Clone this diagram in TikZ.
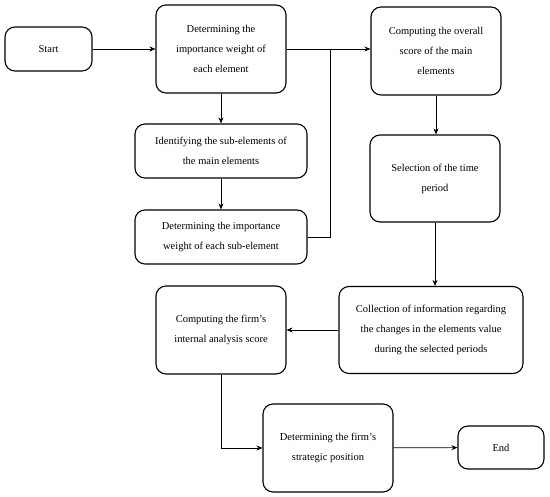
\documentclass[tikz,border=0pt]{standalone}
\usepackage{fontspec}
\setmainfont{Liberation Serif}
\usetikzlibrary{arrows.meta}
\tikzset{
  stepbox/.style={draw, line width=1.1pt, rounded corners=10pt, align=center,
    font=\fontsize{10.5}{20}\selectfont, inner sep=2pt},
  flow/.style={-{Stealth[length=6pt,width=5pt]}, line width=0.7pt},
}
\begin{document}
\begin{tikzpicture}[x=1pt,y=-1pt]
      \useasboundingbox (0,0) rectangle (550,497);
      \node[stepbox, minimum width=87pt, minimum height=44pt] (start) at (48.5,49) {Start};
      \node[stepbox, minimum width=130pt, minimum height=88pt] (weight) at (221,49) {Determining the\\importance weight of\\each element};
      \node[stepbox, minimum width=172pt, minimum height=54pt] (subel) at (221,151) {Identifying the sub-elements of\\the main elements};
      \node[stepbox, minimum width=172pt, minimum height=54pt] (subweight) at (221,237) {Determining the importance\\weight of each sub-element};
      \node[stepbox, minimum width=130pt, minimum height=88pt] (overall) at (436,51) {Computing the overall\\score of the main\\elements};
      \node[stepbox, minimum width=130pt, minimum height=87pt] (period) at (435,178.5) {Selection of the time\\period};
      \node[stepbox, minimum width=184pt, minimum height=87pt] (collect) at (431,330) {Collection of information regarding\\the changes in the elements value\\during the selected periods};
      \node[stepbox, minimum width=130pt, minimum height=88pt] (score) at (221,330) {Computing the firm’s\\internal analysis score};
      \node[stepbox, minimum width=130pt, minimum height=88pt] (position) at (328,448) {Determining the firm’s\\strategic position};
      \node[stepbox, minimum width=86pt, minimum height=43pt] (end) at (501,447.5) {End};

      \coordinate (join) at (330,49);
      \draw[flow] (start) -- (weight);
      \draw[flow] (weight) -- (subel);
      \draw[flow] (subel) -- (subweight);
      \draw[line width=0.7pt] (subweight.east) -| (join);
      \draw[flow] (weight.east) -- (weight.east -| overall.west);
      \draw[flow] (overall) -- (overall |- period.north);
      \draw[flow] (period) -- (period |- collect.north);
      \draw[flow] (collect) -- (score);
      \draw[flow] (score.south) |- (position.west);
      \draw[flow] (position) -- (end);
\end{tikzpicture}
\end{document}
